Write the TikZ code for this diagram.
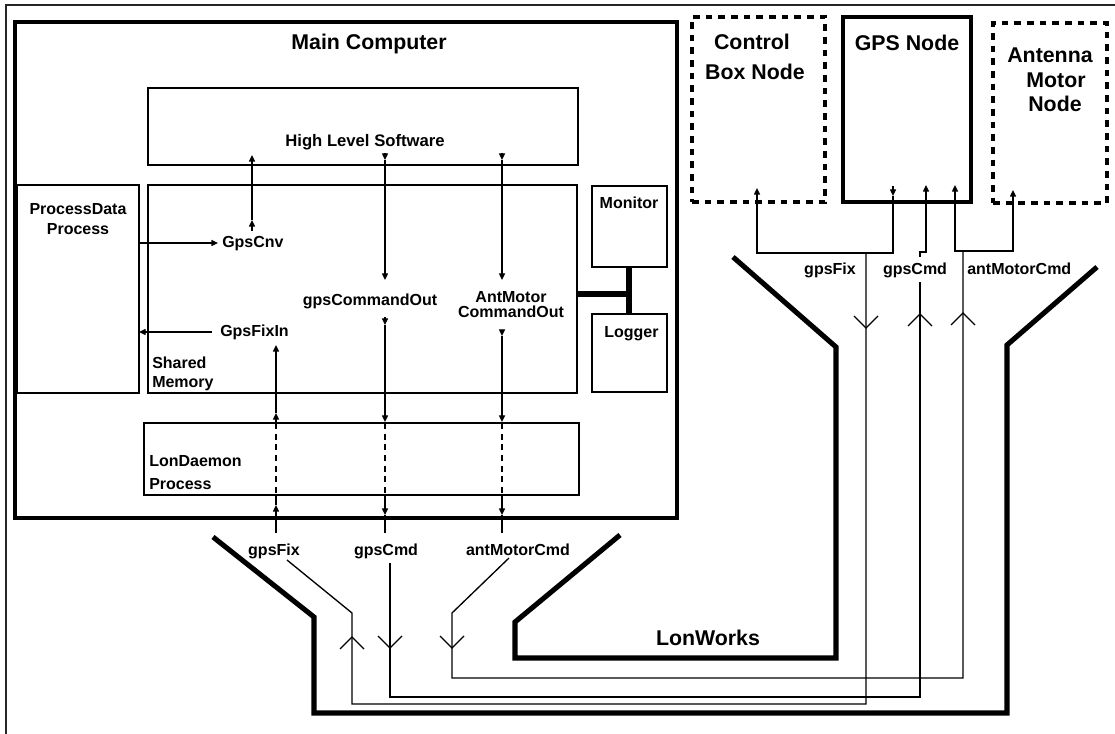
\documentclass[tikz,border=0pt]{standalone}
\usepackage{fontspec}
\setmainfont{Liberation Sans}
\usetikzlibrary{arrows.meta,fit}
\begin{document}
\begin{tikzpicture}[x=0.75pt,y=-0.75pt,
  wire/.style={line width=1pt},
  arr/.style={-{Triangle[length=5pt,width=4.5pt]}},
  dashwire/.style={line width=1pt,dash pattern=on 4.5pt off 3.5pt},
  frameline/.style={line width=0.8pt,black!85},
  mainbox/.style={draw,line width=3.5pt,inner sep=0pt},
  subbox/.style={draw,line width=1pt,inner sep=0pt},
  gpsbox/.style={draw,line width=3pt,inner sep=0pt},
  dashbox/.style={draw,line width=3pt,dash pattern=on 5pt off 4.5pt,inner sep=0pt},
  bus/.style={line width=3.8pt,line join=miter},
  link/.style={line width=5pt},
  big/.style={inner sep=0pt,font=\fontsize{16}{19}\selectfont\bfseries},
  small/.style={inner sep=0pt,font=\fontsize{12}{14}\selectfont\bfseries},
  vdn/.pic={\draw[wire] (-12,-12)--(0,0)--(12,-12);},
  vup/.pic={\draw[wire] (-12,12)--(0,0)--(12,12);}
]
\useasboundingbox (0,0) rectangle (1115,734);
% outer frame
\draw[frameline] (6,734)--(6,5)--(1115,5);

% boxes
\node[mainbox, fit={(15,22) (677,518)}] (main) {};
\node[subbox, fit={(148,88) (578,165)}] (hls) {};
\node[subbox, fit={(148,185) (577,393)}] (shm) {};
\node[subbox, fit={(17,185) (139,393)}] (pdp) {};
\node[subbox, fit={(592,186) (667,267)}] (mon) {};
\node[subbox, fit={(592,314) (667,392)}] (logr) {};
\node[subbox, fit={(144,423) (579,495)}] (lond) {};
\node[dashbox, fit={(692,17) (825,202)}] (ctrl) {};
\node[gpsbox, fit={(843,17) (971,202)}] (gps) {};
\node[dashbox, fit={(993,23) (1107,203)}] (ant) {};

% texts
\node[big,anchor=base] (tmain) at (369,50) {Main Computer};
\node[small,anchor=base,font=\fontsize{12.5}{14}\selectfont\bfseries] (thls) at (365,147) {High Level Software};
\node[small,anchor=base] (tpd1) at (78,215) {ProcessData};
\node[small,anchor=base] (tpd2) at (78,235) {Process};
\node[small,anchor=base west] (gpscnv) at (222,248) {GpsCnv};
\node[small,anchor=base west] (gpsfixin) at (220,337) {GpsFixIn};
\node[small,anchor=base] (gpscmdout) at (370,306) {gpsCommandOut};
\node[small,anchor=base] (antout1) at (511,303) {AntMotor};
\node[small,anchor=base] (antout2) at (511,318) {CommandOut};
\node[small,anchor=base west] (tsh1) at (152,369) {Shared};
\node[small,anchor=base west] (tsh2) at (152,388) {Memory};
\node[small,anchor=base west] (tld1) at (149,467) {LonDaemon};
\node[small,anchor=base west] (tld2) at (149,489) {Process};
\node[small,anchor=base] (tmon) at (629,209) {Monitor};
\node[small,anchor=base west] (tlog) at (604,338) {Logger};
\node[small,anchor=base] (lfix) at (274,555) {gpsFix};
\node[small,anchor=base] (lcmd) at (386,555) {gpsCmd};
\node[small,anchor=base] (lant) at (518,555) {antMotorCmd};
\node[big,anchor=base] (tctrl1) at (752,50) {Control};
\node[big,anchor=base] (tctrl2) at (755,80) {Box Node};
\node[big,anchor=base] (tgps) at (907,51) {GPS Node};
\node[big,anchor=base] (tant1) at (1050,63) {Antenna};
\node[big,anchor=base] (tant2) at (1056,88) {Motor};
\node[big,anchor=base] (tant3) at (1055,112) {Node};
\node[big,anchor=base] (tlon) at (708,645) {LonWorks};
\node[small,anchor=base] (rfix) at (830,275) {gpsFix};
\node[small,anchor=base] (rcmd) at (915,275) {gpsCmd};
\node[small,anchor=base west] (rant) at (967,275) {antMotorCmd};

% monitor / logger link
\coordinate (lkA) at (577,294);
\coordinate (lkB) at (629,294);
\draw[link] (lkA) -- (lkB);
\draw[link] (mon.south -| lkB) -- (logr.north -| lkB);

% GpsCnv and GpsFixIn arrows
\draw[wire,arr] (139,243) -- (218,243);
\draw[wire,arr] (212,332) -- (139,332);
% GpsCnv up to HLS
\draw[wire,arr] (252,231) -- (252,220);
\draw[wire,arr] (252,220) -- (252,155);
% gpsCommandOut chain
\draw[wire,arr] (385,153) -- (385,160);
\draw[wire,arr] (385,160) -- (385,280);
\draw[wire,arr] (385,317) -- (385,325);
\draw[wire,arr] (385,325) -- (385,422);
\draw[dashwire] (385,423) -- (385,495);
\draw[wire,arr] (385,495) -- (385,515);
\draw[wire] (385,515) -- (385,533);
% AntMotor chain
\draw[wire,arr] (502,153) -- (502,160);
\draw[wire,arr] (502,160) -- (502,280);
\draw[wire,arr] (502,330) -- (502,336);
\draw[wire,arr] (502,336) -- (502,422);
\draw[dashwire] (502,423) -- (502,495);
\draw[wire,arr] (502,495) -- (502,515);
\draw[wire] (502,515) -- (502,533);
% GpsFix chain (upwards)
\draw[wire,arr] (276,423) -- (276,413);
\draw[wire,arr] (276,413) -- (276,345);
\draw[dashwire] (276,423) -- (276,495);
\draw[wire,arr] (276,533) -- (276,505);
\draw[wire] (276,505) -- (276,495);

% LonWorks bus
\draw[bus] (213,537)--(314,617)--(314,713)--(1007,713)--(1007,345)--(1097,267);
\draw[bus] (620,535)--(515,622)--(515,658)--(836,658)--(836,347)--(733,257);

% bus signal lines
\draw[wire] (287,560)--(352,613)--(352,704)--(866,704)--(866,253);
\draw[wire] (390,563)--(390,697)--(920,697)--(920,282);
\draw[wire] (509,558)--(452,613)--(452,678)--(963,678)--(963,251);
\pic at (352,637) {vup};
\pic at (390,648) {vdn};
\pic at (452,648) {vdn};
\pic at (866,328) {vdn};
\pic at (920,314) {vup};
\pic at (963,313) {vup};

% node side connections
\draw[wire,arr] (893,186) -- (893,196);
\draw[wire,arr] (893,196)--(893,253)--(757,253)--(757,188);
\draw[wire,arr] (920,257)--(920,252)--(926,252)--(926,185);
\draw[wire,arr] (963,251)--(955,251)--(955,185);
\draw[wire,arr] (955,251)--(1013,251)--(1013,190);
\end{tikzpicture}
\end{document}
